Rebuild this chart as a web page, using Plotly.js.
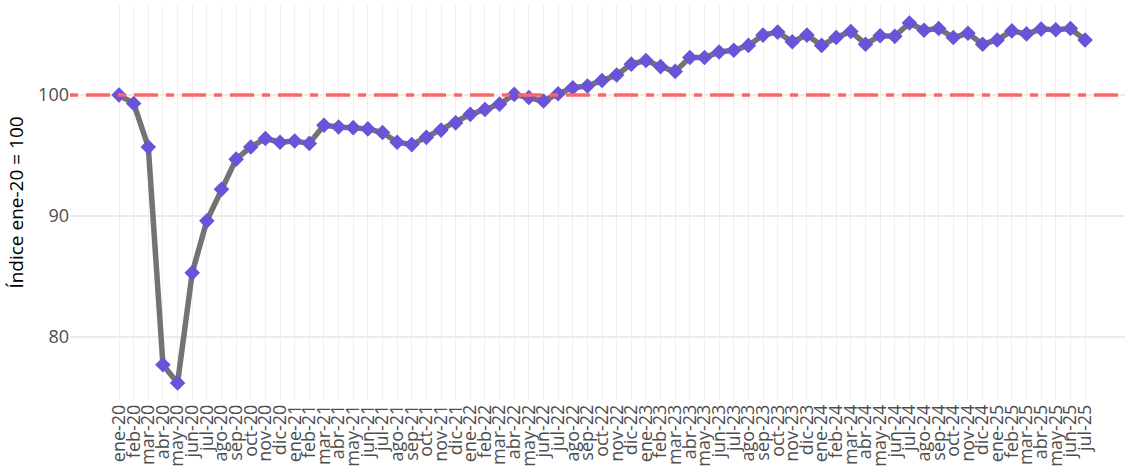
<!DOCTYPE html>
<html>
<head>
<meta charset="utf-8">
<script src="https://cdn.plot.ly/plotly-3.0.1.min.js"></script>
<style>html,body{margin:0;padding:0;background:#fff;}#chart{width:1125px;height:470px;}</style>
</head>
<body>
<div id="chart"></div>
<script>
const months = ["ene-20","feb-20","mar-20","abr-20","may-20","jun-20","jul-20","ago-20","sep-20","oct-20","nov-20","dic-20",
"ene-21","feb-21","mar-21","abr-21","may-21","jun-21","jul-21","ago-21","sep-21","oct-21","nov-21","dic-21",
"ene-22","feb-22","mar-22","abr-22","may-22","jun-22","jul-22","ago-22","sep-22","oct-22","nov-22","dic-22",
"ene-23","feb-23","mar-23","abr-23","may-23","jun-23","jul-23","ago-23","sep-23","oct-23","nov-23","dic-23",
"ene-24","feb-24","mar-24","abr-24","may-24","jun-24","jul-24","ago-24","sep-24","oct-24","nov-24","dic-24",
"ene-25","feb-25","mar-25","abr-25","may-25","jun-25","jul-25"];

const indexValues = [100.0, 99.3, 95.7, 77.7, 76.2, 85.3, 89.6, 92.2, 94.7, 95.7, 96.4, 96.1,
96.2, 96.0, 97.5, 97.35, 97.3, 97.2, 96.9, 96.1, 95.9, 96.5, 97.1, 97.7,
98.4, 98.8, 99.25, 100.05, 99.8, 99.5, 100.1, 100.6, 100.75, 101.2, 101.65, 102.55,
102.85, 102.35, 101.95, 103.1, 103.1, 103.55, 103.7, 104.1, 104.95, 105.2, 104.4, 104.95,
104.1, 104.75, 105.25, 104.2, 104.9, 104.85, 105.95, 105.35, 105.5, 104.75, 105.1, 104.2,
104.55, 105.3, 105.05, 105.45, 105.4, 105.5, 104.55];

const baseLevel = 100;
const baseSpan = [0, 1];
const yTickVals = [80, 90, 100];

const baseTrace = {
  x: baseSpan,
  y: baseSpan.map(() => baseLevel),
  xaxis: 'x2', yaxis: 'y',
  type: 'scatter', mode: 'lines',
  line: {color: '#ff6666', width: 3.5, dash: '8px,8px,24px,8px'},
  hoverinfo: 'skip', showlegend: false
};

const trace = {
  x: months,
  y: indexValues,
  type: 'scatter',
  mode: 'lines+markers',
  line: {color: '#737373', width: 5.5},
  marker: {symbol: 'diamond', size: 12, color: '#6a52d9', line: {width: 0}},
  hoverinfo: 'x+y',
  showlegend: false
};

const layout = {
  width: 1125, height: 470,
  margin: {l: 70, r: 0, t: 5, b: 70},
  paper_bgcolor: '#ffffff',
  plot_bgcolor: '#ffffff',
  font: {family: 'Open Sans, Noto Sans, sans-serif', color: '#4d4d4d', size: 18},
  xaxis: {
    type: 'category',
    range: [-3.35, 68.73],
    tickmode: 'linear', tick0: 0, dtick: 1,
    tickangle: -90,
    tickfont: {size: 18, color: '#4d4d4d'},
    showgrid: true, gridcolor: '#efefef', gridwidth: 1,
    zeroline: false, showline: false, ticks: '', ticklen: 0,
    automargin: false
  },
  xaxis2: {
    overlaying: 'x', range: [0, 1], visible: false, showgrid: false, zeroline: false
  },
  yaxis: {
    range: [74.79, 107.44],
    tickvals: yTickVals,
    tickfont: {size: 18, color: '#4d4d4d'},
    showgrid: true, gridcolor: '#ebebeb', gridwidth: 1.2,
    zeroline: false, showline: false, ticks: '',
    title: {text: 'Índice ene-20 = 100', font: {size: 19, color: '#000000'}, standoff: 9},
    automargin: false
  }
};

Plotly.newPlot('chart', [baseTrace, trace], layout, {displayModeBar: false, staticPlot: true});
</script>
</body>
</html>
